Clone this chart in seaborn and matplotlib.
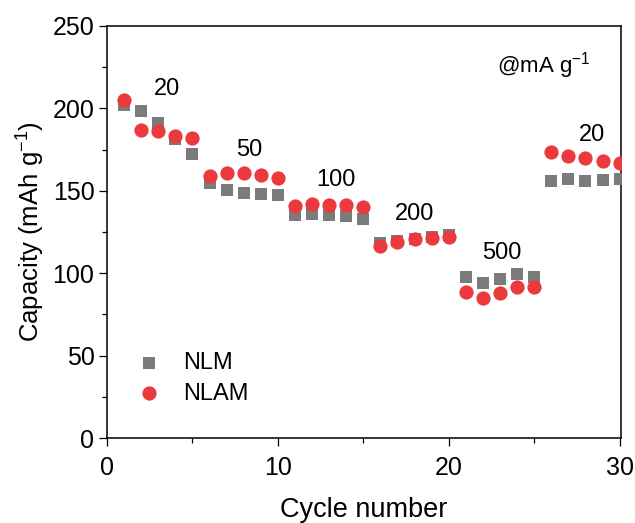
import matplotlib
matplotlib.use("Agg")
import matplotlib.pyplot as plt
from matplotlib.ticker import MultipleLocator
import numpy as np
import pandas as pd
import seaborn as sns

# Rate capability: discharge capacity per cycle at stepped current densities
cycles = list(range(1, 31))
nlm = [202.0, 198.6, 191.3, 181.2, 172.3,
       154.5, 150.5, 148.9, 148.1, 147.5,
       135.3, 135.7, 135.3, 134.7, 132.7,
       118.5, 119.5, 120.5, 122.2, 123.2,
       97.5, 93.9, 96.3, 99.3, 97.5,
       156.2, 157.0, 155.9, 156.5, 157.0]
nlam = [205.1, 187.0, 186.0, 183.3, 182.2,
        159.2, 161.0, 160.6, 159.6, 157.6,
        140.8, 141.8, 141.4, 141.4, 140.0,
        116.7, 119.1, 120.6, 121.2, 122.2,
        88.4, 85.2, 88.2, 91.4, 91.8,
        173.4, 171.3, 169.7, 167.8, 166.8]

rate_labels = ["20", "50", "100", "200", "500", "20"]
rate_label_x = [3.5, 8.3, 13.4, 18.0, 23.1, 28.4]
rate_label_y = [211.5, 175.0, 156.5, 136.0, 112.0, 184.0]

sns.set_theme(style="ticks")
plt.rcParams["font.family"] = ["Liberation Sans", "DejaVu Sans"]
plt.rcParams["mathtext.fontset"] = "custom"
plt.rcParams["mathtext.rm"] = "Liberation Sans"
plt.rcParams["mathtext.it"] = "Liberation Sans:italic"
plt.rcParams["text.color"] = "black"
plt.rcParams["axes.labelcolor"] = "black"

df_nlm = pd.DataFrame({"cycle": cycles, "capacity": nlm})
df_nlam = pd.DataFrame({"cycle": cycles, "capacity": nlam})

fig = plt.figure(figsize=(6.35, 5.23), dpi=100)
ax = fig.add_axes([0.1685, 0.1625, 0.810, 0.788])

sns.scatterplot(data=df_nlm, x="cycle", y="capacity", marker="s", s=80,
                color="#7b7b7b", linewidth=0, ax=ax, label="NLM", zorder=3)
sns.scatterplot(data=df_nlam, x="cycle", y="capacity", marker="o", s=105,
                color="#ea3a3d", linewidth=0, ax=ax, label="NLAM", zorder=4)

ax.set_xlim(0, 30.1)
ax.set_ylim(0, 250)
ax.xaxis.set_major_locator(MultipleLocator(10))
ax.xaxis.set_minor_locator(MultipleLocator(5))
ax.yaxis.set_major_locator(MultipleLocator(50))
ax.yaxis.set_minor_locator(MultipleLocator(25))
ax.tick_params(axis="both", which="major", direction="out", length=6,
               width=0.9, labelsize=18, color="black", labelcolor="black")
ax.tick_params(axis="x", which="major", pad=7)
ax.tick_params(axis="y", which="major", pad=3)
ax.tick_params(axis="both", which="minor", direction="out", length=3.5,
               width=0.9, color="black")
ax.tick_params(top=False, right=False, which="both")
for side in ["left", "right", "top", "bottom"]:
    ax.spines[side].set_visible(True)
    ax.spines[side].set_linewidth(1.1)
    ax.spines[side].set_color("black")

ax.set_xlabel("Cycle number", fontsize=19.5, labelpad=12)
ax.set_ylabel("Capacity (mAh g$^{-1}$)", fontsize=18.5, labelpad=4)

for txt, lx, ly in zip(rate_labels, rate_label_x, rate_label_y):
    ax.text(lx, ly, txt, fontsize=17, ha="center", va="center")
ax.text(25.55, 226.0, "@mA g$^{-1}$", fontsize=16, ha="center", va="center")

ax.legend(loc="lower left", bbox_to_anchor=(0.018, 0.058), frameon=False,
          fontsize=17, handletextpad=0.45, labelspacing=0.35,
          borderaxespad=0.0, markerscale=1.0)

fig.savefig("out.png", dpi=100)
